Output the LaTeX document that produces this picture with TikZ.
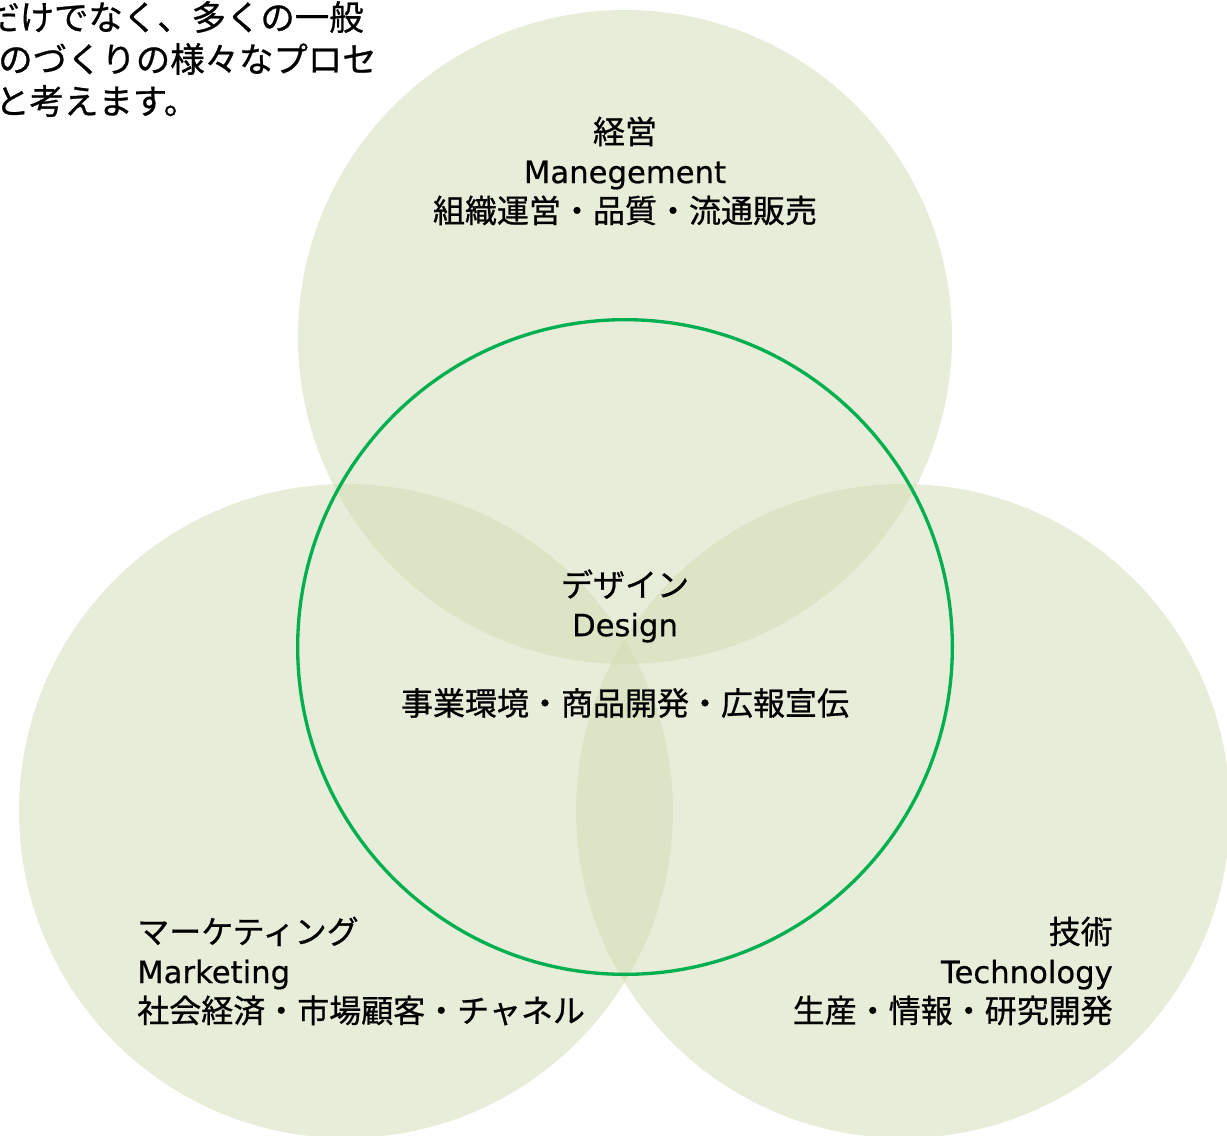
\documentclass[tikz,border=0pt]{standalone}
\usepackage{fontspec}
\setmainfont{Noto Sans CJK JP}[FakeBold=0.8,AutoFakeBold=0.8]
\newfontfamily\lat{DejaVu Sans}[FakeBold=0.5]
\definecolor{petal}{RGB}{209,219,179}
\definecolor{ring}{RGB}{0,176,80}
\begin{document}
\begin{tikzpicture}[x=0.75pt,y=-0.75pt,
  petalc/.style={fill=petal,fill opacity=0.5,draw=none},
  ringc/.style={draw=ring,line width=2.5pt},
  lbl/.style={inner sep=0pt,font=\fontsize{24}{29.6}\selectfont},
  intro/.style={inner sep=0pt,font=\fontsize{25.8}{31}\selectfont}]
\useasboundingbox (0,0) rectangle (1227,1135);
\begin{scope}
\clip (0,0) rectangle (1227,1135);
\fill[petalc] (625,337) circle [radius=245.25pt];
\fill[petalc] (346,811) circle [radius=245.25pt];
\fill[petalc] (903,811) circle [radius=245.25pt];
\draw[ringc] (625,647) circle [radius=245.5pt];
\node[intro,anchor=west] (i1) at (-15,17) {だけでなく、多くの一般};
\node[intro,anchor=west] (i2) at (-2,59) {のづくりの様々なプロセ};
\node[intro,anchor=west] (i3) at (-5,101) {と考えます。};
\end{scope}
\node[lbl,align=center] (mg) at (625,171) {経営\\{\lat\fontsize{23}{29.6}\selectfont Manegement}\\組織運営・品質・流通販売};
\node[lbl,align=center] (ds) at (625,606) {デザイン\\{\lat\fontsize{23}{29.6}\selectfont Design}};
\node[lbl] (dsub) at (625,703) {事業環境・商品開発・広報宣伝};
\node[lbl,align=left,anchor=west] (mk) at (137,971) {マーケティング\\{\lat\fontsize{23}{29.6}\selectfont Marketing}\\社会経済・市場顧客・チャネル};
\node[lbl,align=right,anchor=east] (tc) at (1113,971) {技術\\{\lat\fontsize{23}{29.6}\selectfont Technology}\\生産・情報・研究開発};
\end{tikzpicture}
\end{document}
